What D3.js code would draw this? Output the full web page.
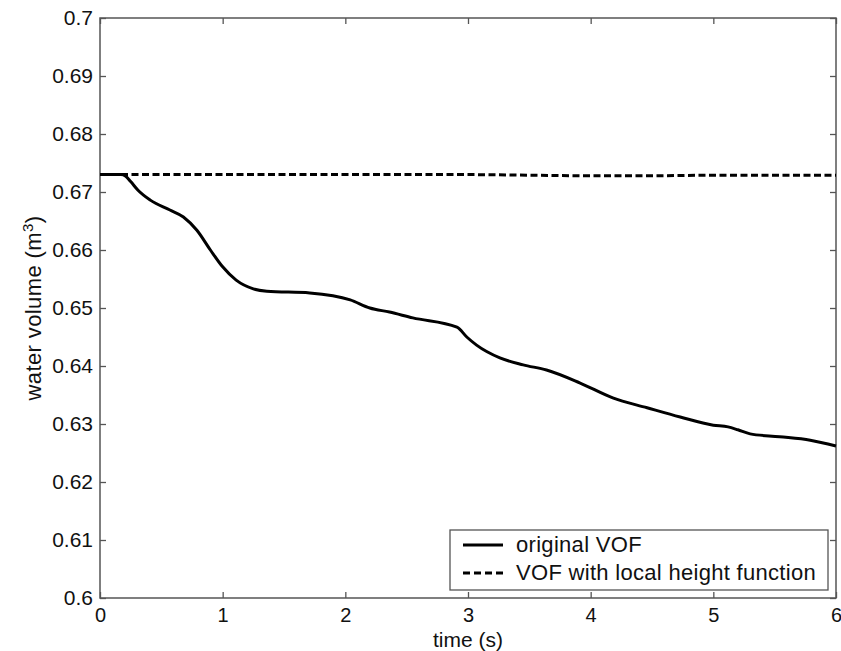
<!DOCTYPE html>
<html>
<head>
<meta charset="utf-8">
<script src="https://cdn.jsdelivr.net/npm/d3@7"></script>
<style>
  html, body { margin: 0; padding: 0; background: #fff; }
  svg text { font-family: "Liberation Sans", Arial, Helvetica, sans-serif; fill: #111; }
  .frame { fill: none; stroke: #555; stroke-width: 1.5; }
</style>
</head>
<body>
<div id="chart"></div>
<script>
// --- water volume vs time ---------------------------------------------------

// original VOF (solid)
const origTime = [0, 0.17, 0.21, 0.25, 0.31, 0.41, 0.57, 0.68, 0.79, 0.90, 1.0, 1.11,
  1.25, 1.36, 1.71, 2.04, 2.2, 2.36, 2.55, 2.91, 2.99, 3.07, 3.26, 3.45, 3.64, 3.91,
  4.18, 4.46, 4.73, 5.0, 5.12, 5.2, 5.3, 5.54, 5.79, 6.0];
const origVol = [0.6730, 0.6730, 0.6727, 0.6718, 0.6703, 0.6686, 0.6669, 0.6657,
  0.6634, 0.6600, 0.6571, 0.6548, 0.6533, 0.6529, 0.6526, 0.6514, 0.6500, 0.6493,
  0.6483, 0.6467, 0.6450, 0.6436, 0.6414, 0.6402, 0.6393, 0.6371, 0.6345, 0.6328,
  0.6312, 0.6298, 0.6295, 0.6290, 0.6283, 0.6278, 0.6272, 0.6262];

// VOF with local height function (dashed)
const lhfTime = [0, 1, 2, 3, 3.5, 4, 4.5, 5, 6];
const lhfVol  = [0.6730, 0.6730, 0.6730, 0.6730, 0.6729, 0.6728, 0.6728, 0.6729, 0.6729];

const xTicks = [0, 1, 2, 3, 4, 5, 6];
const yTicks = [0.6, 0.61, 0.62, 0.63, 0.64, 0.65, 0.66, 0.67, 0.68, 0.69, 0.7];

const seriesNames = ['original VOF', 'VOF with local height function'];

const W = 841, H = 651;
const m = { left: 100, right: 5, top: 18, bottom: 53 };

const svg = d3.select('#chart').append('svg')
  .attr('width', W).attr('height', H);

const x = d3.scaleLinear().domain([0, 6]).range([m.left, W - m.right]);
const y = d3.scaleLinear().domain([0.6, 0.7]).range([H - m.bottom, m.top]);

const TICK = 6;
const fmtY = d => d3.format('.2~f')(d);

// axes (inward ticks, mirrored on top/right)
const axes = [
  { ax: d3.axisBottom(x).tickValues(xTicks).tickSize(-TICK).tickPadding(10).tickFormat(d3.format('d')), at: `translate(0,${y(0.6)})`, fs: 20 },
  { ax: d3.axisTop(x).tickValues(xTicks).tickSize(-TICK).tickFormat(''), at: `translate(0,${y(0.7)})`, fs: 20 },
  { ax: d3.axisLeft(y).tickValues(yTicks).tickSize(-TICK).tickPadding(7).tickFormat(fmtY), at: `translate(${x(0)},0)`, fs: 21 },
  { ax: d3.axisRight(y).tickValues(yTicks).tickSize(-TICK).tickFormat(''), at: `translate(${x(6)},0)`, fs: 21 },
];
axes.forEach(a => {
  const g = svg.append('g').attr('transform', a.at).call(a.ax);
  g.select('.domain').remove();
  g.selectAll('.tick line').attr('stroke', '#555').attr('stroke-width', 1.3);
  g.selectAll('.tick text').style('font-size', a.fs + 'px').attr('fill', '#111');
});

svg.append('rect').attr('class', 'frame')
  .attr('x', x(0)).attr('y', y(0.7))
  .attr('width', x(6) - x(0)).attr('height', y(0.6) - y(0.7));

const line = d3.line().x(d => x(d[0])).y(d => y(d[1])).curve(d3.curveMonotoneX);

svg.append('path')
  .datum(origTime.map((t, i) => [t, origVol[i]]))
  .attr('d', line)
  .attr('fill', 'none').attr('stroke', '#000').attr('stroke-width', 3);

svg.append('path')
  .datum(lhfTime.map((t, i) => [t, lhfVol[i]]))
  .attr('d', line)
  .attr('fill', 'none').attr('stroke', '#000').attr('stroke-width', 3)
  .attr('stroke-dasharray', '7,3.5');

// axis titles
svg.append('text')
  .attr('x', x(3)).attr('y', 647)
  .attr('text-anchor', 'middle').style('font-size', '21px')
  .text('time (s)');

const yl = svg.append('text')
  .attr('transform', `translate(41,${(y(0.6) + y(0.7)) / 2}) rotate(-90)`)
  .attr('text-anchor', 'middle').style('font-size', '22px')
  .style('letter-spacing', '0.4px');
yl.append('tspan').text('water volume (m');
yl.append('tspan').attr('dy', -8).style('font-size', '15px').text('3');
yl.append('tspan').attr('dy', 8).text(')');

// legend
const lg = svg.append('g').attr('transform', 'translate(450,530)');
lg.append('rect').attr('width', 378).attr('height', 60)
  .attr('fill', '#fff').attr('stroke', '#555').attr('stroke-width', 1.3);
seriesNames.forEach((name, i) => {
  const yy = 15 + i * 28;
  lg.append('line')
    .attr('x1', 13).attr('x2', 53).attr('y1', yy).attr('y2', yy)
    .attr('stroke', '#000').attr('stroke-width', 3)
    .attr('stroke-dasharray', i ? '7,4' : null);
  lg.append('text')
    .attr('x', 66).attr('y', yy + 7)
    .style('font-size', '22px')
    .style('letter-spacing', '0.3px')
    .text(name);
});
</script>
</body>
</html>
